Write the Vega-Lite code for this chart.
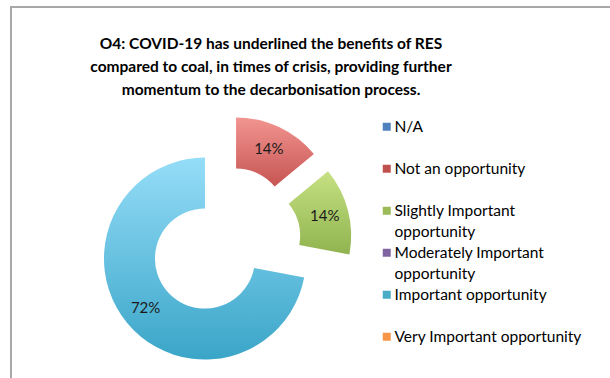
{
  "$schema": "https://vega.github.io/schema/vega-lite/v6.json",
  "width": 602,
  "height": 380,
  "autosize": "none",
  "padding": {"left": 11, "top": 7, "right": 0, "bottom": 0},
  "background": "white",
  "view": {"stroke": "#A8A8A8", "strokeWidth": 2},
  "title": {
    "text": ["O4: COVID-19 has underlined the benefits of RES", "compared to coal, in times of crisis, providing further", "momentum to the decarbonisation process."],
    "font": "Lato",
    "fontSize": 15.5,
    "fontWeight": "bold",
    "color": "#000000",
    "lineHeight": 23,
    "anchor": "middle",
    "frame": "group",
    "dx": -41,
    "offset": -91
  },
  "data": {
    "values": [
      {"category": "N/A", "share": 0, "rank": 1},
      {"category": "Not an opportunity", "share": 0.14, "rank": 2},
      {"category": "Slightly Important opportunity", "share": 0.14, "rank": 3},
      {"category": "Moderately Important opportunity", "share": 0, "rank": 4},
      {"category": "Important opportunity", "share": 0.72, "rank": 5},
      {"category": "Very Important opportunity", "share": 0, "rank": 6}
    ]
  },
  "layer": [
    {
      "mark": {"type": "arc", "opacity": 0, "x": 214, "y": 235, "innerRadius": 50, "outerRadius": 101},
      "encoding": {
        "theta": {"field": "share", "type": "quantitative", "stack": true, "scale": {"domain": [0, 1]}},
        "order": {"field": "rank", "type": "quantitative"},
        "color": {
          "field": "category",
          "type": "nominal",
          "scale": {
            "domain": ["N/A", "Not an opportunity", "Slightly Important opportunity", "Moderately Important opportunity", "Important opportunity", "Very Important opportunity"],
            "range": ["#4F81BD", "#C0504D", "#9BBB59", "#8064A2", "#4BACC6", "#F79646"]
          },
          "legend": {
            "orient": "none",
            "legendX": 368,
            "legendY": 112,
            "title": null,
            "symbolType": "square",
            "symbolSize": 64,
            "symbolOpacity": 1,
            "symbolStrokeWidth": 0,
            "labelFont": "Lato",
            "labelFontSize": 15.5,
            "labelColor": "#000000",
            "labelLimit": 300,
            "labelOffset": 0,
            "gridAlign": "all",
            "columns": 1,
            "rowPadding": 4,
            "labelExpr": "datum.label == 'Slightly Important opportunity' ? ['Slightly Important', 'opportunity'] : datum.label == 'Moderately Important opportunity' ? ['Moderately Important', 'opportunity'] : datum.label",
            "encode": {"labels": {"update": {"lineHeight": {"value": 21}}}}
          }
        }
      }
    },
    {
      "mark": {
        "type": "arc",
        "x": 214,
        "y": 235,
        "innerRadius": 50,
        "outerRadius": 101,
        "xOffset": {"expr": "26*sin(PI*(datum.share_start+datum.share_end))"},
        "yOffset": {"expr": "-26*cos(PI*(datum.share_start+datum.share_end))"},
        "fill": {"expr": "{gradient: 'linear', x1: 0, y1: 0, x2: 0, y2: 1, stops: datum.category == 'Not an opportunity' ? [{offset: 0, color: '#F29591'}, {offset: 1, color: '#C65452'}] : datum.category == 'Slightly Important opportunity' ? [{offset: 0, color: '#C6E183'}, {offset: 1, color: '#90B34F'}] : datum.category == 'Important opportunity' ? [{offset: 0, color: '#95DDF8'}, {offset: 1, color: '#3AA5C8'}] : datum.category == 'N/A' ? [{offset: 0, color: '#7FA6D9'}, {offset: 1, color: '#4F81BD'}] : datum.category == 'Moderately Important opportunity' ? [{offset: 0, color: '#A48BC4'}, {offset: 1, color: '#8064A2'}] : [{offset: 0, color: '#F9B57A'}, {offset: 1, color: '#F79646'}]}"}
      },
      "encoding": {
        "theta": {"field": "share", "type": "quantitative", "stack": true, "scale": {"domain": [0, 1]}},
        "order": {"field": "rank", "type": "quantitative"}
      }
    },
    {
      "transform": [{"filter": "datum.share > 0"}],
      "mark": {
        "type": "text",
        "x": 214,
        "y": 235,
        "radius": 77,
        "font": "Lato",
        "fontSize": 15,
        "fill": "#1A1A1A",
        "xOffset": {"expr": "26*sin(PI*(datum.share_start+datum.share_end))"},
        "yOffset": {"expr": "-26*cos(PI*(datum.share_start+datum.share_end))"}
      },
      "encoding": {
        "theta": {"field": "share", "type": "quantitative", "stack": true, "scale": {"domain": [0, 1]}},
        "order": {"field": "rank", "type": "quantitative"},
        "text": {"field": "share", "type": "quantitative", "format": ".0%"}
      }
    }
  ]
}
